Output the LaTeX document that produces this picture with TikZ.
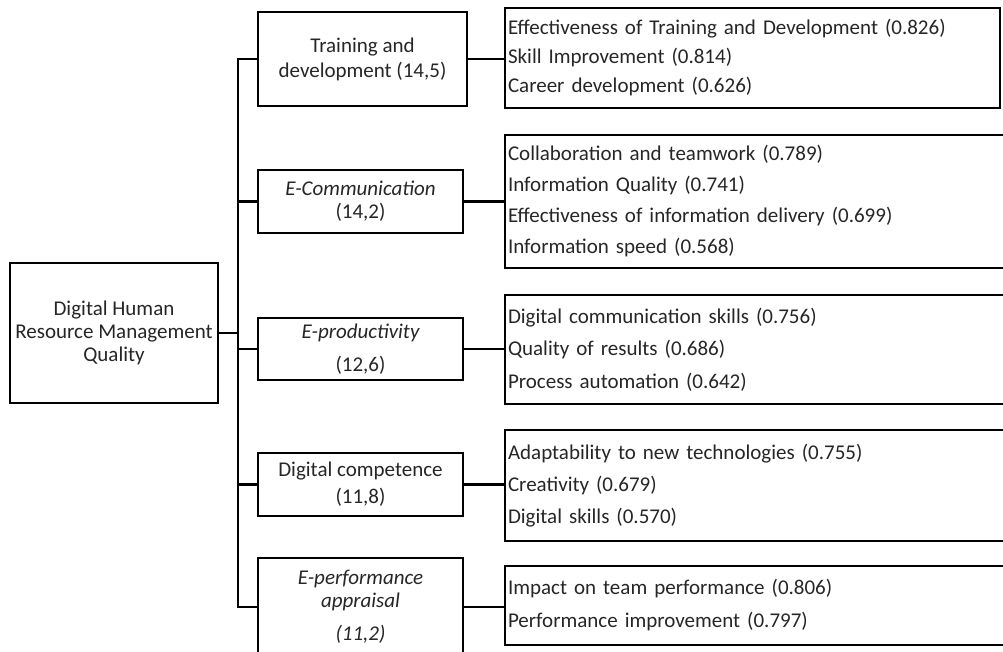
\documentclass[tikz,border=0pt]{standalone}
\usepackage{fontspec}
\setmainfont{Carlito}
\begin{document}
\begin{tikzpicture}[x=1pt,y=-1pt,
  box/.style={draw=black, line width=2.2pt, rectangle, inner sep=0pt, outer sep=0pt,
    text=black!85, align=center},
  itembox/.style={box, align=left, inner xsep=3pt, anchor=west},
  link/.style={draw=black, line width=2.2pt}
]
\useasboundingbox (0,0) rectangle (1003,652);
\clip (0,0) rectangle (1003,652);
% root
\node[box, minimum width=208pt, minimum height=140pt, font=\fontsize{21}{23}\selectfont]
  (root) at (114,333) {Digital Human\\Resource Management\\Quality};
% middle boxes
\node[box, minimum width=209pt, minimum height=94pt, font=\fontsize{21}{25}\selectfont]
  (t1) at (362.5,59) {Training and\\development (14,5)};
\node[box, minimum width=205pt, minimum height=63pt, font=\fontsize{21}{23}\selectfont]
  (t2) at (360.5,201.5) {\itshape E-Communication\\(14,2)};
\node[box, minimum width=205pt, minimum height=62pt, font=\fontsize{21}{33}\selectfont]
  (t3) at (360.5,349) {\itshape E-productivity\\(12,6)};
\node[box, minimum width=205pt, minimum height=63pt, font=\fontsize{21}{27}\selectfont]
  (t4) at (360.5,484.5) {Digital competence\\(11,8)};
\node[box, minimum width=205pt, minimum height=98pt, font=\fontsize{21}{23}\selectfont]
  (t5) at (360.5,607) {\itshape E-performance\\\itshape appraisal\\[10pt]\itshape (11,2)};
% item boxes
\node[itembox, minimum width=495pt, minimum height=100pt, text width=489pt, font=\fontsize{21}{29}\selectfont]
  (r1) at (505,58) {Effectiveness of Training and Development (0.826)\\Skill Improvement (0.814)\\Career development (0.626)};
\node[itembox, minimum width=520pt, minimum height=133pt, text width=514pt, font=\fontsize{21}{31}\selectfont]
  (r2) at (505,201.5) {Collaboration and teamwork (0.789)\\Information Quality (0.741)\\Effectiveness of information delivery (0.699)\\Information speed (0.568)};
\node[itembox, minimum width=520pt, minimum height=109pt, text width=514pt, font=\fontsize{21}{32.5}\selectfont]
  (r3) at (505,349.5) {Digital communication skills (0.756)\\Quality of results (0.686)\\Process automation (0.642)};
\node[itembox, minimum width=520pt, minimum height=111pt, text width=514pt, font=\fontsize{21}{32}\selectfont]
  (r4) at (505,485.5) {Adaptability to new technologies (0.755)\\Creativity (0.679)\\Digital skills (0.570)};
\node[itembox, minimum width=520pt, minimum height=79pt, text width=514pt, font=\fontsize{21}{33}\selectfont]
  (r5) at (505,605.5) {Impact on team performance (0.806)\\Performance improvement (0.797)};
% connectors
\coordinate (bus) at (238,0);
\draw[link] (root.east) -- (root.east -| bus);
\draw[link] (t1.west) -- (t1.west -| bus) -- (t5.west -| bus) -- (t5.west);
\draw[link] (t2.west) -- (t2.west -| bus);
\draw[link] (t3.west) -- (t3.west -| bus);
\draw[link] (t4.west) -- (t4.west -| bus);
\draw[link] (t1.east) -- (t1.east -| r1.west);
\draw[link] (t2.east) -- (t2.east -| r2.west);
\draw[link] (t3.east) -- (t3.east -| r3.west);
\draw[link] (t4.east) -- (t4.east -| r4.west);
\draw[link] (t5.east) -- (t5.east -| r5.west);
\end{tikzpicture}
\end{document}
